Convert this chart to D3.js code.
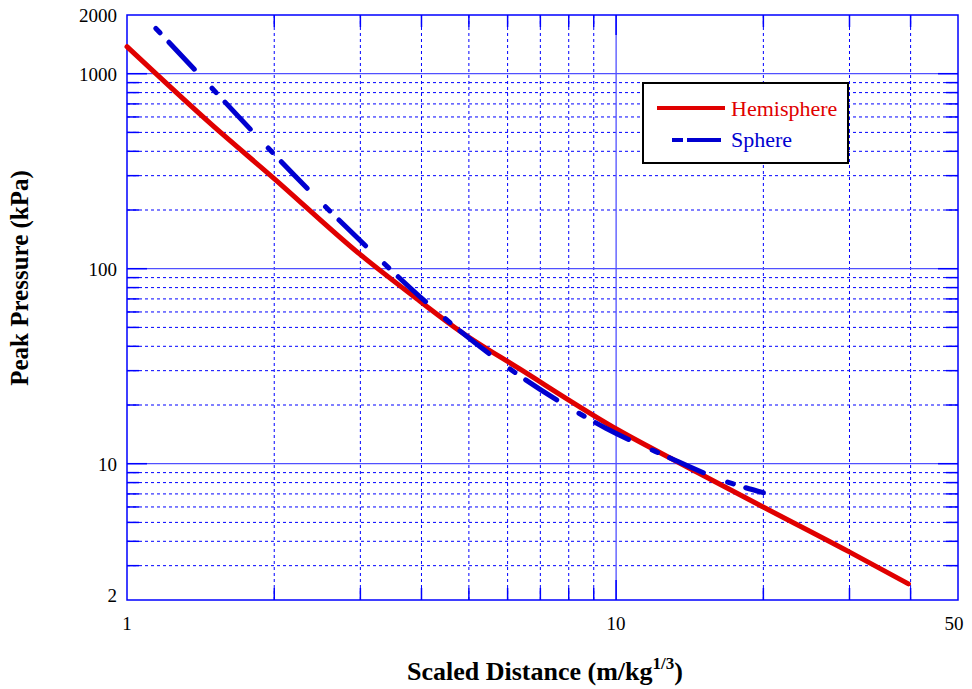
<!DOCTYPE html>
<html>
<head>
<meta charset="utf-8">
<script src="https://cdn.jsdelivr.net/npm/d3@7"></script>
<style>
  html, body { margin: 0; padding: 0; background: #fff; }
  svg { display: block; font-family: "Liberation Serif", "Times New Roman", serif; }
</style>
</head>
<body>
<svg id="chart" width="972" height="689"></svg>
<script>
// Peak overpressure versus scaled distance
const hemiZ = [1, 1.49, 1.98, 3.0, 3.96, 4.78, 6.34, 10.14, 13.57, 19.58, 29.9, 39.6];
const hemiP = [1376, 548, 296, 118, 68.5, 48.1, 30.7, 14.8, 10.0, 6.16, 3.54, 2.42];

const sphereZ = [1.088, 1.39, 1.81, 2.37, 3.13, 4.12, 5.95, 7.89, 9.53, 12.63, 16.75, 20];
const sphereP = [1958, 1020, 502, 249, 125.6, 66.2, 31.7, 19.9, 15.2, 10.95, 8.11, 7.1];

const xTickLabels = [1, 10, 50];
const yTickLabels = [2, 10, 100, 1000, 2000];
const xMinorGrid = [2, 3, 4, 5, 6, 7, 8, 9, 20, 30, 40];
const yMinorGrid = [3, 4, 5, 6, 7, 8, 9, 20, 30, 40, 50, 60, 70, 80, 90,
                    200, 300, 400, 500, 600, 700, 800, 900];
const xMajorGrid = [10];
const yMajorGrid = [10, 100, 1000];

const seriesNames = ["Hemisphere", "Sphere"];
const colors = { Hemisphere: "#e00000", Sphere: "#0000d0" };

const svg = d3.select("#chart");
const pLeft = 127, pRight = 958, pTop = 15, pBottom = 600;

const x = d3.scaleLog().domain([1, 50]).range([pLeft, pRight]);
const y = d3.scaleLog().domain([2, 2000]).range([pBottom, pTop]);

const grid = svg.append("g");
const gridBlue = "#0000ff";

// minor grid (dashed)
grid.selectAll("line.vx").data(xMinorGrid).join("line")
  .attr("x1", d => x(d)).attr("x2", d => x(d))
  .attr("y1", pTop).attr("y2", pBottom)
  .attr("stroke", gridBlue).attr("stroke-width", 1)
  .attr("stroke-dasharray", "3,3");
grid.selectAll("line.hy").data(yMinorGrid).join("line")
  .attr("y1", d => y(d)).attr("y2", d => y(d))
  .attr("x1", pLeft).attr("x2", pRight)
  .attr("stroke", gridBlue).attr("stroke-width", 1)
  .attr("stroke-dasharray", "3,3");

// decade grid (solid)
grid.selectAll("line.mx").data(xMajorGrid).join("line")
  .attr("x1", d => x(d)).attr("x2", d => x(d))
  .attr("y1", pTop).attr("y2", pBottom)
  .attr("stroke", "#5050ff").attr("stroke-width", 1.3);
grid.selectAll("line.my").data(yMajorGrid).join("line")
  .attr("y1", d => y(d)).attr("y2", d => y(d))
  .attr("x1", pLeft).attr("x2", pRight)
  .attr("stroke", "#5050ff").attr("stroke-width", 1.3);

// inward tick marks on all four sides
const ticks = svg.append("g").attr("stroke", gridBlue).attr("stroke-width", 1.5);
const yTickVals = yMinorGrid.concat(yMajorGrid);
const xTickVals = xMinorGrid.concat(xMajorGrid);
const tl = d => (yMajorGrid.includes(d) ? 20 : 12);
const txl = d => (xMajorGrid.includes(d) ? 20 : 12);
ticks.selectAll("line.tl").data(yTickVals).join("line")
  .attr("x1", pLeft).attr("x2", d => pLeft + tl(d))
  .attr("y1", d => y(d)).attr("y2", d => y(d));
ticks.selectAll("line.tr").data(yTickVals).join("line")
  .attr("x1", pRight).attr("x2", d => pRight - tl(d))
  .attr("y1", d => y(d)).attr("y2", d => y(d));
ticks.selectAll("line.tb").data(xTickVals).join("line")
  .attr("x1", d => x(d)).attr("x2", d => x(d))
  .attr("y1", pBottom).attr("y2", d => pBottom - txl(d));
ticks.selectAll("line.tt").data(xTickVals).join("line")
  .attr("x1", d => x(d)).attr("x2", d => x(d))
  .attr("y1", pTop).attr("y2", d => pTop + txl(d));

// frame
svg.append("rect")
  .attr("x", pLeft).attr("y", pTop)
  .attr("width", pRight - pLeft).attr("height", pBottom - pTop)
  .attr("fill", "none").attr("stroke", gridBlue).attr("stroke-width", 1.5);

// tick labels
svg.append("g").selectAll("text").data(xTickLabels).join("text")
  .attr("x", d => x(d) - (d === 50 ? 4 : 0)).attr("y", 630)
  .attr("text-anchor", "middle")
  .attr("font-size", 19).attr("fill", "#000")
  .text(d => d);
svg.append("g").selectAll("text").data(yTickLabels).join("text")
  .attr("x", 117).attr("y", d => Math.min(y(d) + 7, 602))
  .attr("text-anchor", "end")
  .attr("font-size", 19).attr("fill", "#000")
  .text(d => d);

// axis titles
const xt = svg.append("text")
  .attr("x", 545).attr("y", 680)
  .attr("text-anchor", "middle")
  .attr("font-size", 26).attr("font-weight", "bold").attr("fill", "#000");
xt.append("tspan").text("Scaled Distance (m/kg");
xt.append("tspan").attr("font-size", 17).attr("dy", -11).text("1/3");
xt.append("tspan").attr("dy", 11).text(")");

svg.append("text")
  .attr("transform", "translate(28,278) rotate(-90)")
  .attr("text-anchor", "middle")
  .attr("font-size", 25).attr("font-weight", "bold").attr("fill", "#000")
  .text("Peak Pressure (kPa)");

// curves
const line = d3.line()
  .x(d => x(d[0])).y(d => y(d[1]))
  .curve(d3.curveMonotoneX);

const plot = svg.append("g");
plot.append("path")
  .datum(hemiZ.map((z, i) => [z, hemiP[i]]))
  .attr("d", line)
  .attr("fill", "none").attr("stroke", colors.Hemisphere)
  .attr("stroke-width", 5).attr("stroke-linecap", "round");

// sphere: short/long dash pattern, entering on a gap
plot.append("path")
  .datum(sphereZ.map((z, i) => [z, sphereP[i]]))
  .attr("d", line)
  .attr("fill", "none").attr("stroke", colors.Sphere)
  .attr("stroke-width", 5).attr("stroke-linecap", "round")
  .attr("stroke-dasharray", "6,13,37,26")
  .attr("stroke-dashoffset", 66);

// legend
const lg = svg.append("g");
lg.append("rect")
  .attr("x", 643).attr("y", 83).attr("width", 205).attr("height", 80)
  .attr("fill", "#fff").attr("stroke", "#000").attr("stroke-width", 2);
lg.append("line")
  .attr("x1", 657).attr("x2", 725).attr("y1", 108).attr("y2", 108)
  .attr("stroke", colors.Hemisphere).attr("stroke-width", 4);
lg.append("line")
  .attr("x1", 672).attr("x2", 721).attr("y1", 140).attr("y2", 140)
  .attr("stroke", colors.Sphere).attr("stroke-width", 4)
  .attr("stroke-dasharray", "11,4,34");
lg.selectAll("text").data(seriesNames).join("text")
  .attr("x", 731).attr("y", (d, i) => 116 + i * 31)
  .attr("font-size", 22)
  .attr("fill", d => colors[d])
  .text(d => d);
</script>
</body>
</html>
